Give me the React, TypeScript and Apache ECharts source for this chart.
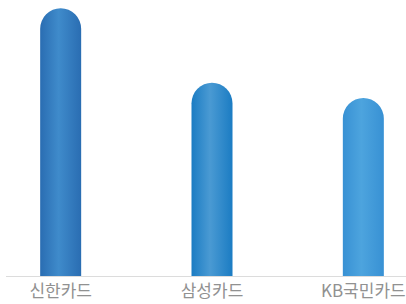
import React, { useEffect, useRef } from "react";
import * as echarts from "echarts";

const categories = ["신한카드", "삼성카드", "KB국민카드"];
const values = [97, 70, 64.5];
const edgeColors = ["#2a6db2", "#1b7cc3", "#3891d4"];
const midColors = ["#3f8bcb", "#4a9ad3", "#4da4de"];

export default function App() {
  const ref = useRef<HTMLDivElement>(null);
  useEffect(() => {
    document.body.style.margin = "0";
    const chart = echarts.init(ref.current!, null, { renderer: "svg" });
    chart.setOption({
      animation: false,
      grid: { left: 0, right: 0, top: 0, bottom: 28 },
      xAxis: {
        type: "category",
        data: categories,
        axisLine: { show: false },
        axisTick: { show: false },
        axisLabel: {
          color: "#919191",
          fontSize: 17,
          margin: 5,
          fontFamily: "Noto Sans CJK KR",
        },
      },
      yAxis: { type: "value", min: 0, max: 100, show: false, splitLine: { show: false } },
      graphic: [
        {
          type: "line",
          shape: { x1: 21, y1: 276.5, x2: 454, y2: 276.5 },
          style: { stroke: "#dcdcdc", lineWidth: 1 },
          z: 10,
        },
      ],
      series: [
        {
          type: "bar",
          barWidth: 41,
          data: values.map((v, i) => ({
            value: v,
            itemStyle: {
              borderRadius: [20.5, 20.5, 0, 0],
              color: new echarts.graphic.LinearGradient(0, 0, 1, 0, [
                { offset: 0, color: edgeColors[i] },
                { offset: 0.45, color: midColors[i] },
                { offset: 1, color: edgeColors[i] },
              ]),
            },
          })),
        },
      ],
    });
    return () => chart.dispose();
  }, []);
  return (
    <div style={{ position: "relative", width: 406, height: 304, overflow: "hidden" }}>
      <div ref={ref} style={{ position: "absolute", left: -15, top: 0, width: 454, height: 304 }} />
    </div>
  );
}
